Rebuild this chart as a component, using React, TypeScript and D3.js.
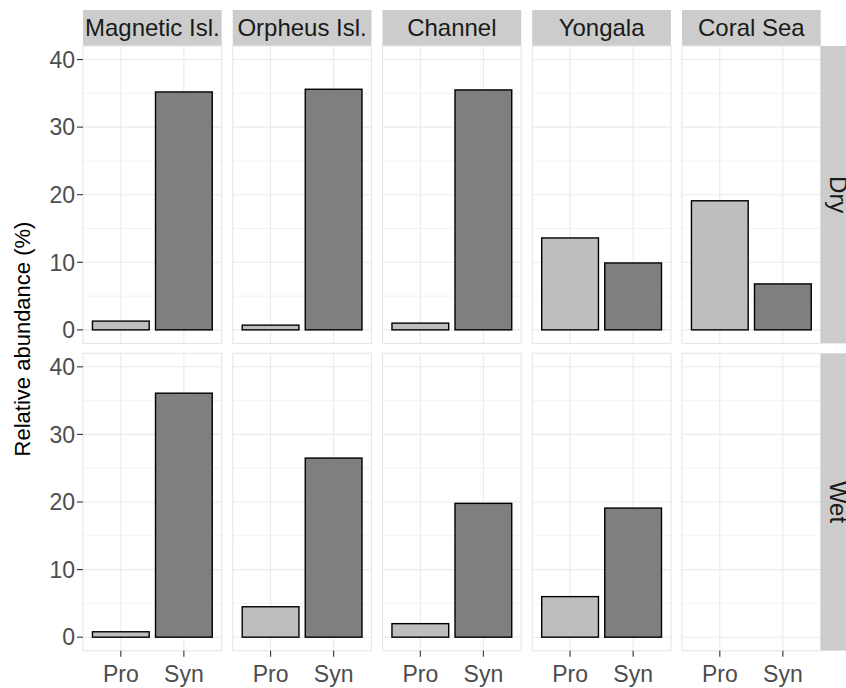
import React, { useEffect, useRef } from 'react';
import * as d3 from 'd3';

const sites = ['Magnetic Isl.', 'Orpheus Isl.', 'Channel', 'Yongala', 'Coral Sea'];
const seasons = ['Dry', 'Wet'];
const taxa = ['Pro', 'Syn'];
const yTicks = [0, 10, 20, 30, 40];
const yMinor = [5, 15, 25, 35];

// relative abundance (%) per site, [Pro, Syn]; null = no sample
const dryValues: (number | null)[][] = [
  [1.3, 35.2],
  [0.7, 35.6],
  [1.0, 35.5],
  [13.6, 9.9],
  [19.1, 6.8],
];
const wetValues: (number | null)[][] = [
  [0.8, 36.1],
  [4.5, 26.5],
  [2.0, 19.8],
  [6.0, 19.1],
  [null, null],
];

const taxonFill: Record<string, string> = { Pro: '#BEBEBE', Syn: '#7F7F7F' };

function App() {
  const ref = useRef<SVGSVGElement>(null);

  useEffect(() => {
    document.body.style.margin = '0';
    if (!ref.current) return;
    const width = 846;
    const height = 688;
    const font = '"Liberation Sans", Arial, sans-serif';

    const panelLeft = 83;
    const panelW = 138.7;
    const panelGap = 11.05;
    const stripTop = 10;
    const stripH = 36;
    const rowTops = [46, 353.3];
    const panelH = 297.4;
    const rightStripW = 35;

    const svg = d3.select(ref.current);
    svg.selectAll('*').remove();
    svg.append('rect').attr('width', width).attr('height', height).attr('fill', '#fff');

    const rows = [dryValues, wetValues];

    sites.forEach((site, ci) => {
      const x0 = panelLeft + ci * (panelW + panelGap);
      const x = d3
        .scaleBand<string>()
        .domain(taxa)
        .range([x0, x0 + panelW])
        .paddingInner(0.1)
        .paddingOuter(0.15);

      // top strip
      svg
        .append('rect')
        .attr('x', x0)
        .attr('y', stripTop)
        .attr('width', panelW)
        .attr('height', stripH)
        .attr('fill', '#CCCCCC');
      svg
        .append('text')
        .attr('x', x0 + panelW / 2)
        .attr('y', stripTop + 26)
        .attr('text-anchor', 'middle')
        .attr('font-family', font)
        .attr('font-size', 24)
        .attr('fill', '#1A1A1A')
        .text(site);

      rows.forEach((vals, ri) => {
        const top = rowTops[ri];
        const y = d3.scaleLinear().domain([-2, 42]).range([top + panelH, top]);
        const g = svg.append('g');

        g.append('rect')
          .attr('x', x0)
          .attr('y', top)
          .attr('width', panelW)
          .attr('height', panelH)
          .attr('fill', '#fff');

        g.selectAll('line.minor')
          .data(yMinor)
          .join('line')
          .attr('x1', x0)
          .attr('x2', x0 + panelW)
          .attr('y1', (d) => y(d))
          .attr('y2', (d) => y(d))
          .attr('stroke', '#EBEBEB')
          .attr('stroke-width', 0.6);

        g.selectAll('line.major')
          .data(yTicks)
          .join('line')
          .attr('x1', x0)
          .attr('x2', x0 + panelW)
          .attr('y1', (d) => y(d))
          .attr('y2', (d) => y(d))
          .attr('stroke', '#EBEBEB')
          .attr('stroke-width', 1.1);

        g.selectAll('line.vmajor')
          .data(taxa)
          .join('line')
          .attr('x1', (d) => x(d)! + x.bandwidth() / 2)
          .attr('x2', (d) => x(d)! + x.bandwidth() / 2)
          .attr('y1', top)
          .attr('y2', top + panelH)
          .attr('stroke', '#EBEBEB')
          .attr('stroke-width', 1.1);

        const barData = taxa
          .map((t, i) => ({ taxon: t, value: vals[ci][i] }))
          .filter((d) => d.value !== null) as { taxon: string; value: number }[];

        g.selectAll('rect.bar')
          .data(barData)
          .join('rect')
          .attr('x', (d) => x(d.taxon)!)
          .attr('y', (d) => y(d.value))
          .attr('width', x.bandwidth())
          .attr('height', (d) => y(0) - y(d.value))
          .attr('fill', (d) => taxonFill[d.taxon])
          .attr('stroke', '#000')
          .attr('stroke-width', 1.4);

        g.append('rect')
          .attr('x', x0)
          .attr('y', top)
          .attr('width', panelW)
          .attr('height', panelH)
          .attr('fill', 'none')
          .attr('stroke', '#E6E6E6')
          .attr('stroke-width', 1.1);

        // y axis on first column
        if (ci === 0) {
          const ya = svg.append('g');
          ya.selectAll('line')
            .data(yTicks)
            .join('line')
            .attr('x1', x0 - 6)
            .attr('x2', x0)
            .attr('y1', (d) => y(d))
            .attr('y2', (d) => y(d))
            .attr('stroke', '#333333')
            .attr('stroke-width', 1.1);
          ya.selectAll('text')
            .data(yTicks)
            .join('text')
            .attr('x', x0 - 8)
            .attr('y', (d) => y(d))
            .attr('dy', '0.36em')
            .attr('text-anchor', 'end')
            .attr('font-family', font)
            .attr('font-size', 23)
            .attr('fill', '#4D4D4D')
            .text((d) => d);
        }

        // x axis on bottom row
        if (ri === rows.length - 1) {
          const xa = svg.append('g');
          const bottom = top + panelH;
          xa.selectAll('line')
            .data(taxa)
            .join('line')
            .attr('x1', (d) => x(d)! + x.bandwidth() / 2)
            .attr('x2', (d) => x(d)! + x.bandwidth() / 2)
            .attr('y1', bottom)
            .attr('y2', bottom + 6)
            .attr('stroke', '#333333')
            .attr('stroke-width', 1.1);
          xa.selectAll('text')
            .data(taxa)
            .join('text')
            .attr('x', (d) => x(d)! + x.bandwidth() / 2)
            .attr('y', bottom + 31)
            .attr('text-anchor', 'middle')
            .attr('font-family', font)
            .attr('font-size', 23)
            .attr('fill', '#4D4D4D')
            .text((d) => d);
        }
      });
    });

    // right strips
    const stripX = panelLeft + 4 * (panelW + panelGap) + panelW;
    seasons.forEach((s, ri) => {
      const top = rowTops[ri];
      svg
        .append('rect')
        .attr('x', stripX)
        .attr('y', top)
        .attr('width', rightStripW)
        .attr('height', panelH)
        .attr('fill', '#CCCCCC');
      const cx = stripX + 9;
      const cy = top + panelH / 2;
      svg
        .append('text')
        .attr('transform', `translate(${cx},${cy}) rotate(90)`)
        .attr('text-anchor', 'middle')
        .attr('font-family', font)
        .attr('font-size', 24)
        .attr('fill', '#1A1A1A')
        .text(s);
    });

    // y title
    svg
      .append('text')
      .attr('transform', `translate(30,${339}) rotate(-90)`)
      .attr('text-anchor', 'middle')
      .attr('font-family', font)
      .attr('font-size', 22)
      .attr('fill', '#000')
      .text('Relative abundance (%)');
  }, []);

  return <svg ref={ref} width={846} height={688} style={{ display: 'block' }} />;
}

export default App;
